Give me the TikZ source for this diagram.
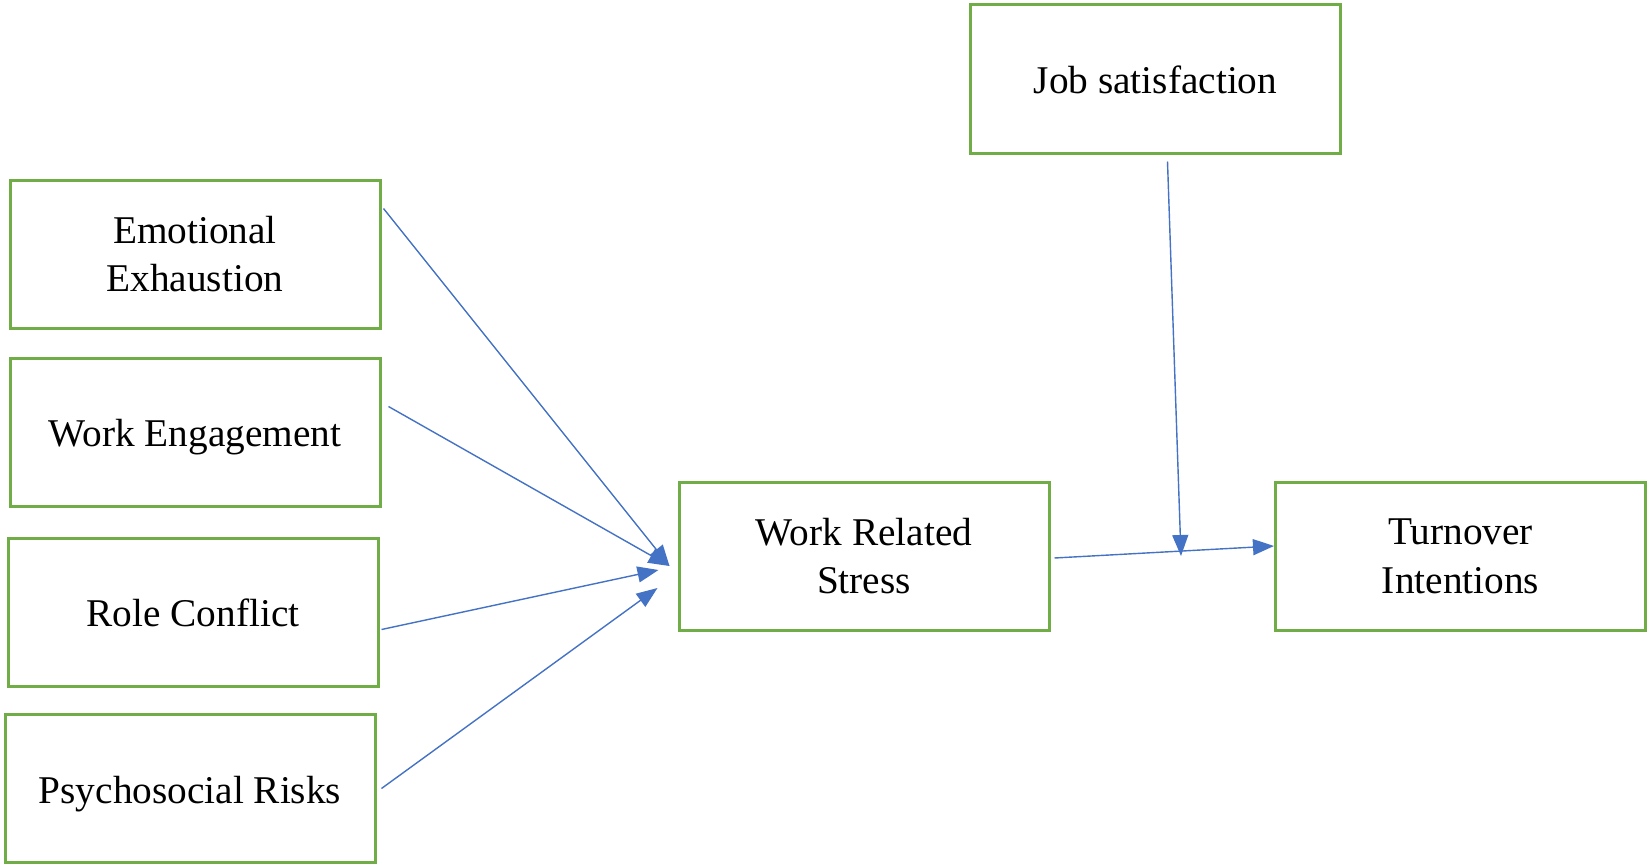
\documentclass[tikz,border=0pt]{standalone}
\usepackage{fontspec}
\setmainfont{Liberation Serif}
\usetikzlibrary{arrows.meta,calc}
\definecolor{boxgreen}{HTML}{70AD47}
\definecolor{arrowblue}{HTML}{4472C4}
\begin{document}
\begin{tikzpicture}[x=1pt,y=-1pt,
  box/.style={draw=boxgreen,line width=3pt,rectangle,minimum width=370pt,minimum height=148pt,
    inner sep=0pt,align=center,font=\fontsize{39.3}{48.8}\selectfont},
  onebox/.style={box,text height=38pt,text depth=9pt},
  conn/.style={draw=arrowblue,line width=1.4pt,-{Triangle[length=21pt,width=16pt]}}]
\useasboundingbox (0,0) rectangle (1650,867);
\node[box] (ee) at (195,254) {Emotional\\Exhaustion};
\node[onebox] (we) at (195,432) {Work Engagement};
\node[onebox] (rc) at (193,612) {Role Conflict};
\node[onebox] (pr) at (190,788.5) {Psychosocial Risks};
\node[box] (ws) at (864,556) {Work Related\\Stress};
\node[onebox] (js) at (1155.5,79) {Job satisfaction};
\node[box] (ti) at (1460.5,556) {Turnover\\Intentions};
\coordinate (m) at (1181,556);
\draw[conn] ([shift={(2,30)}]ee.north east) -- ([shift={(-8,10)}]ws.west);
\draw[conn] ([shift={(7,50)}]we.north east) -- ([shift={(-8,10)}]ws.west);
\draw[conn] ([shift={(2,93)}]rc.north east) -- ([shift={(-19,14)}]ws.west);
\draw[conn] ([shift={(5,0)}]pr.east) -- ([shift={(-20,32)}]ws.west);
\draw[conn] ([shift={(4,2)}]ws.east) -- ([shift={(0,-10)}]ti.west);
\draw[conn] ([shift={(12,7)}]js.south) -- (m);
\end{tikzpicture}
\end{document}
